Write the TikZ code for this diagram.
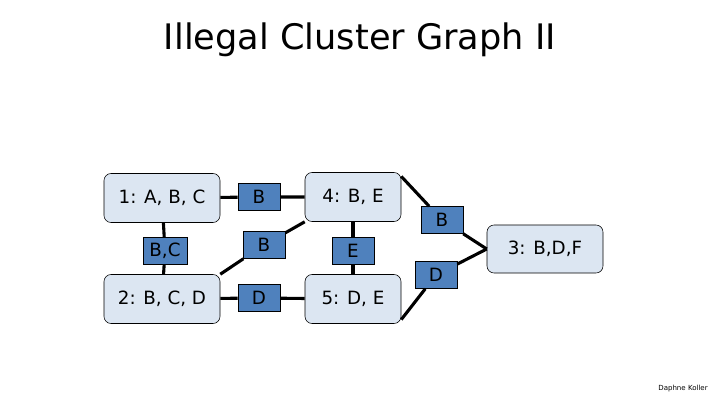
\documentclass[tikz,border=0pt]{standalone}
\usepackage{fontspec}
\setmainfont{DejaVu Sans}
\usetikzlibrary{positioning}
\definecolor{clusterfill}{HTML}{DCE6F2}
\definecolor{sepfill}{HTML}{4F81BD}
\begin{document}
\begin{tikzpicture}[
  x=0.025cm, y=-0.025cm,
  cluster/.style={rectangle, draw, rounded corners=5pt, fill=clusterfill,
    minimum height=49*0.025cm, inner sep=0pt, font=\fontsize{13}{15}\selectfont},
  sepset/.style={rectangle, draw, fill=sepfill, minimum width=42*0.025cm,
    minimum height=27*0.025cm, inner sep=0pt, font=\fontsize{13}{15}\selectfont},
  link/.style={line width=2.2pt}
]
\useasboundingbox (0,0) rectangle (720,405);

% Title
\node[font=\fontsize{25}{30}\selectfont] (title) at (360,40) {Illegal Cluster Graph II};

% Clusters
\node[cluster, minimum width=116*0.025cm] (c1) at (162,198) {1: A, B, C};
\node[cluster, minimum width=116*0.025cm] (c2) at (162,299) {2: B, C, D};
\node[cluster, minimum width=96*0.025cm] (c4) at (353,197) {4: B, E};
\node[cluster, minimum width=96*0.025cm] (c5) at (353,299) {5: D, E};
\node[cluster, minimum width=116*0.025cm, minimum height=48*0.025cm] (c3) at (545,249) {3: B,D,F};

% Sepsets
\node[sepset] (s14) at (259,197) {B};
\node[sepset, minimum width=44*0.025cm] (s12) at (165,251) {B,C};
\node[sepset] (s24) at (264,245) {B};
\node[sepset] (s45) at (353,251) {E};
\node[sepset] (s25) at (259,298) {D};
\node[sepset] (s34) at (442,220) {B};
\node[sepset] (s35) at (436,275) {D};

% Links
\draw[link] (c1) -- (s14) -- (c4);
\draw[link] (c1) -- (s12) -- (c2);
\draw[link] (c2.north east) -- (s24) -- (c4.south west);
\draw[link] (c4) -- (s45) -- (c5);
\draw[link] (c2) -- (s25) -- (c5);
\draw[link] ([yshift=-3pt]c4.north east) -- (s34) -- (c3.west);
\draw[link] ([yshift=3pt]c5.south east) -- (s35) -- (c3.west);
\begin{scope}[on background layer/.try]\end{scope}

% Footer
\node[font=\fontsize{5}{6}\selectfont] (credit) at (683,389) {Daphne Koller};
\end{tikzpicture}
\end{document}
